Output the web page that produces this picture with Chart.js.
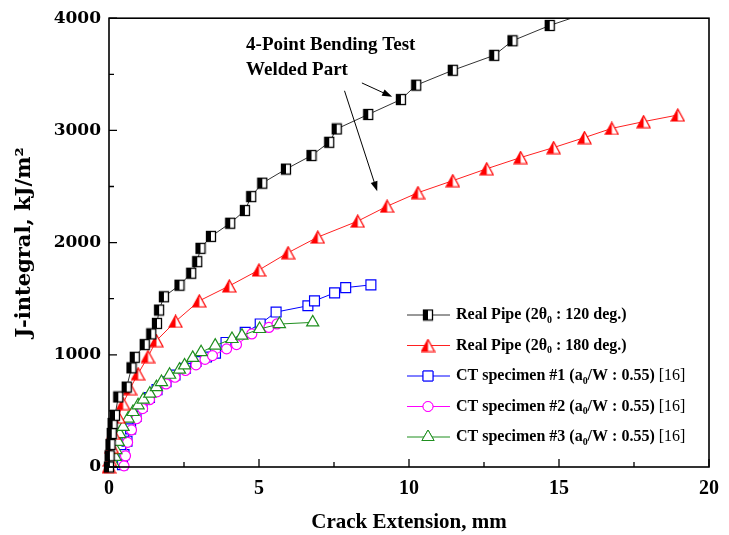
<!DOCTYPE html>
<html>
<head>
<meta charset="utf-8">
<title>J-R curves</title>
<script src="https://cdn.jsdelivr.net/npm/chart.js@4.4.1/dist/chart.umd.min.js"></script>
<style>
  html, body { margin: 0; padding: 0; background: #fff; }
  canvas { display: block; }
</style>
</head>
<body>
<canvas id="jrChart" width="729" height="535"></canvas>
<script>
// values: crack extension (mm) vs J (kJ/m2)
const pipe120X = [0, 0.02, 0.05, 0.09, 0.12, 0.2, 0.31, 0.59, 0.75, 0.86, 1.19, 1.41, 1.6, 1.67, 1.83, 2.35, 2.74, 2.94, 3.05, 3.4, 4.04, 4.53, 4.74, 5.11, 5.9, 6.75, 7.34, 7.59, 8.64, 9.73, 10.24, 11.46, 12.84, 13.45, 14.69, 16.3];
const pipe120J = [0, 100, 200, 299, 388, 461, 624, 712, 884, 978, 1091, 1186, 1280, 1399, 1517, 1620, 1727, 1830, 1949, 2055, 2173, 2286, 2410, 2530, 2655, 2776, 2894, 3013, 3142, 3275, 3403, 3536, 3669, 3799, 3935, 4080];

const pipe180X = [0, 0.03, 0.09, 0.14, 0.31, 0.47, 0.7, 0.97, 1.3, 1.58, 2.22, 3.01, 4.01, 5.0, 5.97, 6.96, 8.29, 9.27, 10.3, 11.46, 12.59, 13.72, 14.82, 15.85, 16.76, 17.82, 18.96];
const pipe180J = [0, 62, 180, 299, 446, 565, 698, 831, 984, 1126, 1298, 1481, 1614, 1756, 1910, 2049, 2191, 2324, 2445, 2552, 2658, 2758, 2847, 2936, 3018, 3078, 3137];

const ct1X = [0.45, 0.5, 0.6, 0.72, 0.9, 1.1, 1.35, 1.6, 1.9, 2.2, 2.55, 2.9, 3.25, 3.55, 3.9, 4.54, 5.04, 5.57, 6.63, 6.85, 7.52, 7.89, 8.73];
const ct1J = [20, 110, 230, 340, 450, 540, 620, 690, 760, 820, 880, 940, 980, 1015, 1110, 1200, 1275, 1381, 1437, 1481, 1552, 1599, 1623];

const ct2X = [0.5, 0.55, 0.62, 0.75, 0.92, 1.12, 1.35, 1.6, 1.9, 2.2, 2.55, 2.9, 3.2, 3.45, 3.92, 4.25, 4.76, 5.33, 5.6];
const ct2J = [10, 100, 220, 330, 430, 520, 600, 670, 740, 800, 860, 910, 960, 993, 1053, 1091, 1186, 1244, 1275];

const ct3X = [0.14, 0.2, 0.23, 0.31, 0.36, 0.47, 0.64, 0.8, 0.97, 1.14, 1.36, 1.58, 1.75, 2.02, 2.35, 2.52, 2.79, 3.07, 3.54, 4.1, 4.43, 5.02, 5.68, 6.79];
const ct3J = [33, 91, 151, 224, 293, 357, 432, 490, 550, 600, 654, 712, 757, 822, 867, 905, 973, 1023, 1082, 1141, 1171, 1230, 1274, 1289];

const xTicks = [0, 5, 10, 15, 20];
const xMinor = [2.5, 7.5, 12.5, 17.5];
const yTicks = [0, 1000, 2000, 3000, 4000];
const yMinor = [500, 1500, 2500, 3500];

// legend text, split so the subscripts can be drawn smaller
const legendTexts = [
  [{t: 'Real Pipe (2θ'}, {t: '0', sub: true}, {t: ' : 120 deg.)'}],
  [{t: 'Real Pipe (2θ'}, {t: '0', sub: true}, {t: ' : 180 deg.)'}],
  [{t: 'CT specimen #1 (a'}, {t: '0', sub: true}, {t: '/W : 0.55) '}, {t: '[16]', plain: true}],
  [{t: 'CT specimen #2 (a'}, {t: '0', sub: true}, {t: '/W : 0.55) '}, {t: '[16]', plain: true}],
  [{t: 'CT specimen #3 (a'}, {t: '0', sub: true}, {t: '/W : 0.55) '}, {t: '[16]', plain: true}]
];
const noteLines = ['4-Point Bending Test', 'Welded Part'];

const serif = '"Liberation Serif", "Times New Roman", serif';
const wide = '"DejaVu Serif", serif';

function pairs(xs, ys) {
  return xs.map((v, i) => ({x: v, y: ys[i]}));
}

// half filled square (black) and half filled triangle (red)
function halfSquare() {
  const c = document.createElement('canvas');
  c.width = 12; c.height = 13;
  const g = c.getContext('2d');
  g.fillStyle = '#fff';
  g.fillRect(1, 1, 10, 11);
  g.fillStyle = '#000';
  g.fillRect(1, 1, 5, 11);
  g.strokeStyle = '#000';
  g.lineWidth = 1.3;
  g.strokeRect(1.5, 1.5, 9, 10);
  return c;
}
function halfTriangle() {
  const c = document.createElement('canvas');
  c.width = 15; c.height = 14;
  const g = c.getContext('2d');
  const path = () => { g.beginPath(); g.moveTo(7.5, 1); g.lineTo(14, 13); g.lineTo(1, 13); g.closePath(); };
  path(); g.fillStyle = '#fff'; g.fill();
  g.save(); path(); g.clip(); g.fillStyle = '#ff0000'; g.fillRect(0, 0, 7.5, 14); g.restore();
  path(); g.strokeStyle = '#ff0000'; g.lineWidth = 1.2; g.stroke();
  return c;
}
const sqImg = halfSquare();
const triImg = halfTriangle();

const colors = ['#333333', '#ff2020', '#0000ff', '#ff00ff', '#1f8f1f'];
const edgeClip = {left: 10, right: 10, top: 0, bottom: 10};

const datasets = [
  {data: pairs(pipe120X, pipe120J), borderColor: colors[0], pointStyle: sqImg, order: 0},
  {data: pairs(pipe180X, pipe180J), borderColor: colors[1], pointStyle: triImg, order: 1},
  {data: pairs(ct1X, ct1J), borderColor: colors[2], pointStyle: 'rect', pointRadius: 7, order: 4},
  {data: pairs(ct2X, ct2J), borderColor: colors[3], pointStyle: 'circle', pointRadius: 5, order: 3},
  {data: pairs(ct3X, ct3J), borderColor: colors[4], pointStyle: 'triangle', pointRadius: 7, order: 2}
].map(d => Object.assign({
  showLine: true,
  borderWidth: 1,
  pointRadius: 6,
  pointBorderColor: d.borderColor,
  pointBackgroundColor: '#fff',
  pointBorderWidth: 1.2,
  clip: edgeClip
}, d));

function drawMarker(ctx, i, x, y) {
  const d = datasets[i];
  if (typeof d.pointStyle !== 'string') {
    ctx.drawImage(d.pointStyle, x - d.pointStyle.width / 2, y - d.pointStyle.height / 2);
    return;
  }
  Chart.helpers.drawPoint(ctx, {
    pointStyle: d.pointStyle, radius: d.pointRadius, rotation: 0, borderWidth: 1.2
  }, x, y);
  ctx.fill();
  ctx.stroke();
}

function drawRich(ctx, x, y, parts, size) {
  parts.forEach(p => {
    const s = p.sub ? size * 0.62 : size;
    ctx.font = (p.plain ? '' : 'bold ') + s + 'px ' + serif;
    ctx.fillText(p.t, x, y + (p.sub ? size * 0.32 : 0));
    x += ctx.measureText(p.t).width;
  });
}

function arrow(ctx, x1, y1, x2, y2) {
  const ang = Math.atan2(y2 - y1, x2 - x1);
  ctx.beginPath();
  ctx.moveTo(x1, y1);
  ctx.lineTo(x2 - 6 * Math.cos(ang), y2 - 6 * Math.sin(ang));
  ctx.stroke();
  ctx.beginPath();
  ctx.moveTo(x2, y2);
  ctx.lineTo(x2 - 10 * Math.cos(ang) + 3.5 * Math.sin(ang), y2 - 10 * Math.sin(ang) - 3.5 * Math.cos(ang));
  ctx.lineTo(x2 - 10 * Math.cos(ang) - 3.5 * Math.sin(ang), y2 - 10 * Math.sin(ang) + 3.5 * Math.cos(ang));
  ctx.closePath();
  ctx.fill();
}

const framePlugin = {
  id: 'frame',
  afterDatasetsDraw(chart) {
    const {ctx, chartArea: a, scales: {x, y}} = chart;
    ctx.save();
    ctx.strokeStyle = '#000';
    ctx.lineWidth = 1.6;
    ctx.strokeRect(a.left, a.top, a.right - a.left, a.bottom - a.top);

    // inward ticks, left and bottom only
    ctx.lineWidth = 1.3;
    ctx.beginPath();
    xTicks.forEach(v => { const p = x.getPixelForValue(v); ctx.moveTo(p, a.bottom); ctx.lineTo(p, a.bottom - 8); });
    xMinor.forEach(v => { const p = x.getPixelForValue(v); ctx.moveTo(p, a.bottom); ctx.lineTo(p, a.bottom - 5); });
    yTicks.forEach(v => { const p = y.getPixelForValue(v); ctx.moveTo(a.left, p); ctx.lineTo(a.left + 8, p); });
    yMinor.forEach(v => { const p = y.getPixelForValue(v); ctx.moveTo(a.left, p); ctx.lineTo(a.left + 5, p); });
    ctx.stroke();

    // annotation and its two arrows
    ctx.fillStyle = '#000';
    ctx.font = 'bold 19px ' + serif;
    ctx.textBaseline = 'middle';
    ctx.fillText(noteLines[0], x.getPixelForValue(4.57), y.getPixelForValue(3760));
    ctx.fillText(noteLines[1], x.getPixelForValue(4.57), y.getPixelForValue(3539));
    ctx.lineWidth = 1;
    arrow(ctx, x.getPixelForValue(8.43), y.getPixelForValue(3423), x.getPixelForValue(9.44), y.getPixelForValue(3299));
    arrow(ctx, x.getPixelForValue(7.85), y.getPixelForValue(3353), x.getPixelForValue(8.94), y.getPixelForValue(2457));
    ctx.restore();
  },
  afterDraw(chart) {
    const ctx = chart.ctx;
    ctx.save();
    ctx.textBaseline = 'middle';
    const left = 407, top = 315, step = 30.5;
    legendTexts.forEach((parts, i) => {
      const yy = top + i * step;
      ctx.strokeStyle = colors[i];
      ctx.lineWidth = 1;
      ctx.beginPath();
      ctx.moveTo(left, yy);
      ctx.lineTo(left + 43, yy);
      ctx.stroke();
      ctx.fillStyle = '#fff';
      ctx.strokeStyle = colors[i];
      drawMarker(ctx, i, left + 21, yy);
      ctx.fillStyle = '#000';
      drawRich(ctx, left + 49, yy, parts, 16);
    });
    ctx.restore();
  }
};

const ctx = document.getElementById('jrChart').getContext('2d');

const jrChart = new Chart(ctx, {
  type: 'scatter',
  data: { datasets: datasets },
  options: {
    responsive: false,
    animation: false,
    devicePixelRatio: 1,
    layout: { padding: { top: 16, right: 16, left: 0, bottom: 0 } },
    plugins: {
      legend: { display: false },
      tooltip: { enabled: false }
    },
    scales: {
      x: {
        type: 'linear',
        min: 0,
        max: 20,
        afterBuildTicks: s => { s.ticks = xTicks.map(v => ({value: v})); },
        afterFit: s => { s.height = 68; },
        grid: { display: false, drawTicks: false },
        border: { display: false },
        ticks: { padding: 10, color: '#000', callback: v => String(v), font: { family: serif, size: 20, weight: 'bold' } },
        title: {
          display: true,
          text: 'Crack Extension, mm',
          color: '#000',
          padding: { top: 0, bottom: 0 },
          font: { family: serif, size: 21, weight: 'bold' }
        }
      },
      y: {
        type: 'linear',
        min: 0,
        max: 4000,
        afterBuildTicks: s => { s.ticks = yTicks.map(v => ({value: v})); },
        afterFit: s => { s.width = 109; },
        grid: { display: false, drawTicks: false },
        border: { display: false },
        ticks: { padding: 8, color: '#000', callback: v => String(v), font: { family: wide, size: 17, weight: 'bold' } },
        title: {
          display: true,
          text: 'J-integral, kJ/m²',
          color: '#000',
          padding: { top: 12, bottom: 0 },
          font: { family: wide, size: 21, weight: 'bold' }
        }
      }
    }
  },
  plugins: [framePlugin]
});
</script>
</body>
</html>
